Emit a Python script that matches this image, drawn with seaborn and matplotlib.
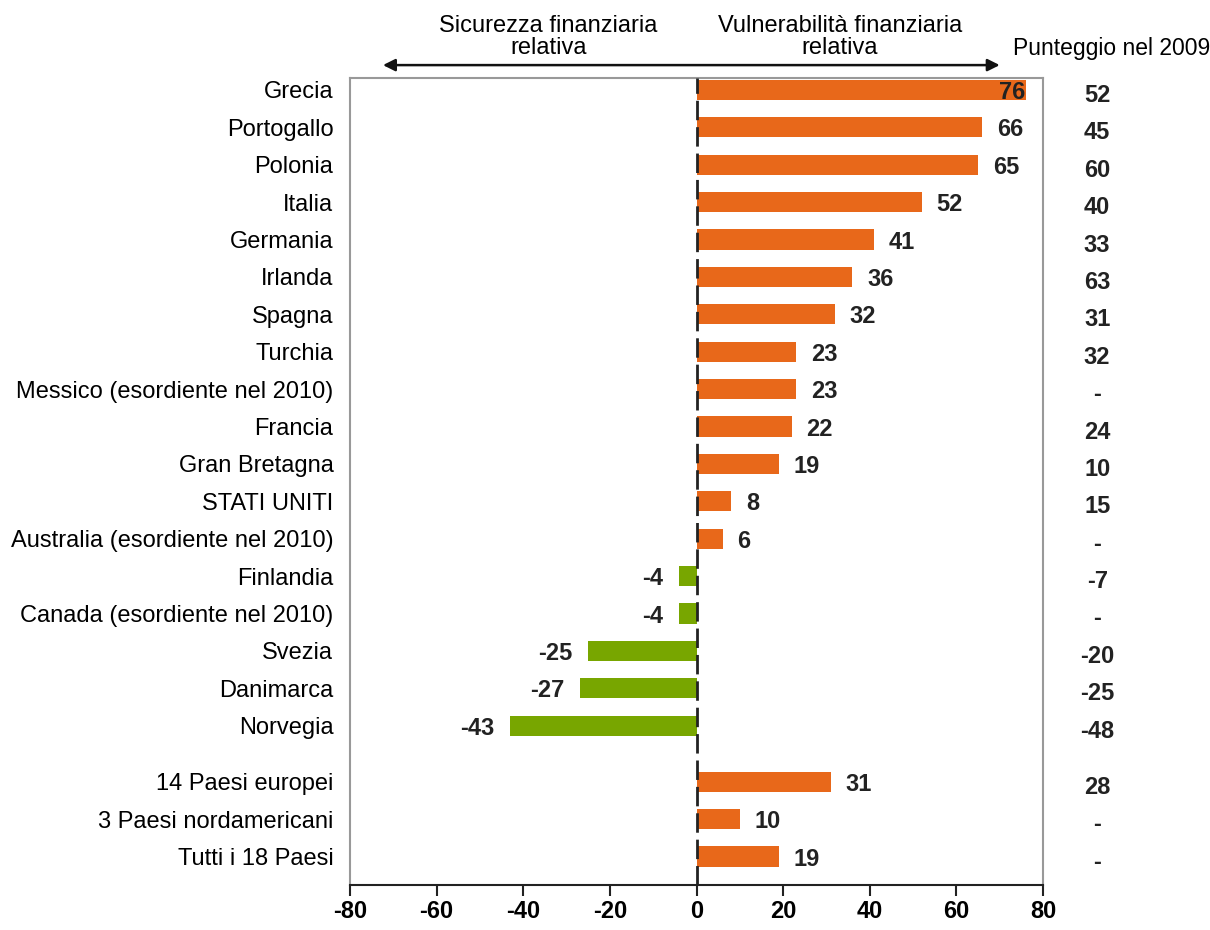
import numpy as np
import pandas as pd
import matplotlib
matplotlib.use("Agg")
import matplotlib.pyplot as plt
import matplotlib.transforms as mtransforms
import seaborn as sns

# ── DATI ──────────────────────────────────────────────────────────
paesi = ['Grecia', 'Portogallo', 'Polonia', 'Italia', 'Germania', 'Irlanda',
         'Spagna', 'Turchia', 'Messico (esordiente nel 2010)', 'Francia',
         'Gran Bretagna', 'STATI UNITI', 'Australia (esordiente nel 2010)',
         'Finlandia', 'Canada (esordiente nel 2010)', 'Svezia', 'Danimarca',
         'Norvegia', '14 Paesi europei', '3 Paesi nordamericani',
         'Tutti i 18 Paesi']
punteggio_2010 = [76, 66, 65, 52, 41, 36, 32, 23, 23, 22, 19, 8, 6,
                  -4, -4, -25, -27, -43, 31, 10, 19]
punteggio_2009 = ['52', '45', '60', '40', '33', '63', '31', '32', '-', '24',
                  '10', '15', '-', '-7', '-', '-20', '-25', '-48', '28', '-', '-']
posizioni = list(range(18)) + [18.5, 19.5, 20.5]

ARANCIO = '#E8681A'
VERDE = '#78A600'

df = pd.DataFrame({'paese': paesi, 'valore': punteggio_2010, 'pos': posizioni})
df['segno'] = np.where(df['valore'] >= 0, 'pos', 'neg')

plt.rcParams['font.family'] = ['Liberation Sans', 'DejaVu Sans']
plt.rcParams['axes.unicode_minus'] = False

fig = plt.figure(figsize=(12.1, 9.3), dpi=100)
ax = fig.add_axes([0.2893, 0.0484, 0.5727, 0.8677])

sns.barplot(data=df, x='valore', y='pos', hue='segno', orient='h',
            native_scale=True, palette={'pos': ARANCIO, 'neg': VERDE},
            saturation=1, width=0.54, legend=False, ax=ax)

ax.set_xlim(-80, 80)
ax.set_ylim(21.26, -0.32)
ax.set_xticks(np.arange(-80, 81, 20))
ax.set_yticks(posizioni, paesi)
ax.set_xlabel('')
ax.set_ylabel('')
ax.tick_params(axis='y', length=0, pad=12, labelsize=17)
ax.tick_params(axis='x', direction='out', length=8, width=1.5, pad=3,
               labelsize=17, color='#222222')
for lab in ax.get_xticklabels():
    lab.set_fontweight('bold')

for side in ['left', 'top', 'right']:
    ax.spines[side].set_color('#999999')
    ax.spines[side].set_linewidth(1.5)
ax.spines['bottom'].set_color('#222222')
ax.spines['bottom'].set_linewidth(1.5)

# linea dello zero tratteggiata
ax.axvline(0, color='#222222', lw=2, ls=(0, (7, 2.5)), zorder=3)

# etichette dei valori
for v, p in zip(punteggio_2010, posizioni):
    if v > 70:
        ax.text(v, p, str(v), ha='right', va='center_baseline', fontsize=17,
                fontweight='bold', color='#222222')
    elif v >= 0:
        ax.text(v + 3.4, p, str(v), ha='left', va='center_baseline',
                fontsize=17, fontweight='bold', color='#222222')
    else:
        ax.text(v - 3.6, p, str(v), ha='right', va='center_baseline',
                fontsize=17, fontweight='bold', color='#222222')

# colonna 2009
for s, p in zip(punteggio_2009, posizioni):
    ax.text(92.5, p + 0.08, s, ha='center', va='center_baseline',
            fontsize=17, fontweight='bold', color='#222222', clip_on=False)

# freccia e intestazioni sopra il grafico
trans = mtransforms.blended_transform_factory(ax.transData, fig.transFigure)
ax.annotate('', xy=(-72.4, 0.930), xytext=(70, 0.930), xycoords=trans,
            textcoords=trans,
            arrowprops=dict(arrowstyle='<|-|>', color='#111111', lw=1.8,
                            mutation_scale=18, shrinkA=0, shrinkB=0))
fig.text(0.453, 0.960, 'Sicurezza finanziaria\nrelativa', ha='center',
         va='center', fontsize=17, linespacing=1.0)
fig.text(0.694, 0.960, 'Vulnerabilità finanziaria\nrelativa', ha='center',
         va='center', fontsize=17, linespacing=1.0)
fig.text(0.837, 0.948, 'Punteggio nel 2009', ha='left', va='center',
         fontsize=16.5)

fig.savefig('out.png', dpi=100)
